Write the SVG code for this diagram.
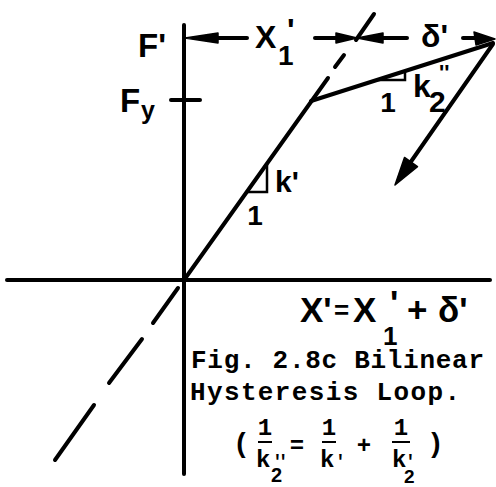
<svg xmlns="http://www.w3.org/2000/svg" width="496" height="487" viewBox="0 0 496 487">
<style>
.ln{stroke:#000;stroke-width:4;fill:none;stroke-linecap:round}
.th{stroke:#000;stroke-width:2.5;fill:none}
.ah{fill:#000;stroke:#000;stroke-width:1.5;stroke-linejoin:round}
.lt{font-family:"Liberation Sans",Arial,sans-serif;font-weight:bold;fill:#000}
.tw{font-family:"Liberation Mono","Courier New",monospace;font-weight:bold;fill:#000}
.bar{stroke:#000;stroke-width:2}
</style>
<rect width="496" height="487" fill="#fff"/>
<g id="axes">
<line class="ln" x1="184" y1="25" x2="184" y2="474"/>
<line class="ln" x1="7" y1="280" x2="490" y2="280"/>
<line class="ln" x1="171" y1="100" x2="200" y2="100"/>
</g>
<g id="connectors">
<line class="ln" x1="184" y1="280" x2="328" y2="78"/>
<line class="ln" x1="335" y1="67" x2="344" y2="55"/>
<line class="ln" x1="356" y1="40" x2="374" y2="14"/>
<line class="ln" x1="178" y1="288" x2="153" y2="323"/>
<line class="ln" x1="142" y1="339" x2="109" y2="383"/>
<line class="ln" x1="94" y1="405" x2="55" y2="460"/>
<line class="ln" x1="311" y1="101" x2="493" y2="43"/>
<line class="ln" x1="493" y1="44" x2="410" y2="163"/>
<polygon class="ah" points="395,185 404.5,157.4 417.5,166.6"/>
<polyline class="th" points="248,192 267,192 267,164"/>
<polyline class="th" points="377,80 405,80 405,71"/>
<line class="ln" x1="218" y1="38" x2="247" y2="38"/>
<polygon class="ah" points="185,38 218,33 218,43"/>
<line class="ln" x1="315" y1="38" x2="336" y2="38"/>
<polygon class="ah" points="357,38 336,33 336,43"/>
<line class="ln" x1="383" y1="38" x2="407" y2="38"/>
<polygon class="ah" points="357,38 383,33 383,43"/>
<line class="ln" x1="463" y1="38" x2="476" y2="38"/>
<polygon class="ah" points="495,39 474,32 476,45"/>
</g>
<g id="labels">
<text class="lt" font-size="33" x="138" y="57">F'</text>
<text class="lt" font-size="33" x="120" y="112">F<tspan font-size="25" x="141" y="119">y</tspan></text>
<text class="lt" font-size="32" x="255" y="48">X<tspan font-size="28" x="278" y="65">1</tspan><tspan x="287" y="41">'</tspan></text>
<text class="lt" font-size="32" x="421" y="47">δ'</text>
<text class="lt" font-size="30" x="275" y="192">k'</text>
<text class="lt" font-size="28" x="255" y="225" text-anchor="middle">1</text>
<text class="lt" font-size="28" x="388" y="112" text-anchor="middle">1</text>
<text class="lt" font-size="32" x="413" y="97">k<tspan font-size="30" x="429" y="112">2</tspan><tspan font-size="22" x="439" y="80">''</tspan></text>
<text class="lt" font-size="35" x="300" y="322">X'<tspan font-size="26" x="334" y="319">=</tspan><tspan x="353" y="322">X</tspan><tspan font-size="26" x="383" y="345">1</tspan><tspan x="390" y="315">'</tspan><tspan x="407" y="322">+</tspan><tspan x="438" y="322">δ'</tspan></text>
</g>
<g id="caption">
<text class="tw" font-size="26" x="191" y="368" textLength="293" lengthAdjust="spacing">Fig. 2.8c Bilinear</text>
<text class="tw" font-size="26" x="190" y="400" textLength="270" lengthAdjust="spacing">Hysteresis Loop.</text>
<text class="tw" font-size="28" x="233" y="452">(</text>
<text class="tw" font-size="24" x="265" y="435" text-anchor="middle">1</text>
<line class="bar" x1="258" y1="442" x2="272" y2="442"/>
<text class="tw" font-size="24" x="256" y="467">k<tspan font-size="18" x="272" letter-spacing="-5">''</tspan><tspan font-family="Liberation Sans,Arial,sans-serif" font-size="20" x="271" y="482">2</tspan></text>
<text class="tw" font-size="24" x="297" y="453" text-anchor="middle">=</text>
<text class="tw" font-size="24" x="329" y="435" text-anchor="middle">1</text>
<line class="bar" x1="322" y1="442" x2="336" y2="442"/>
<text class="tw" font-size="24" x="320" y="467">k<tspan font-size="18" x="335">'</tspan></text>
<text class="tw" font-size="24" x="364" y="453" text-anchor="middle">+</text>
<text class="tw" font-size="24" x="401" y="435" text-anchor="middle">1</text>
<line class="bar" x1="392" y1="442" x2="410" y2="442"/>
<text class="tw" font-size="24" x="392" y="467">k<tspan font-size="18" x="405">'</tspan><tspan font-family="Liberation Sans,Arial,sans-serif" font-size="19" x="404" y="483">2</tspan></text>
<text class="tw" font-size="28" x="427" y="452">)</text>
</g>
</svg>
